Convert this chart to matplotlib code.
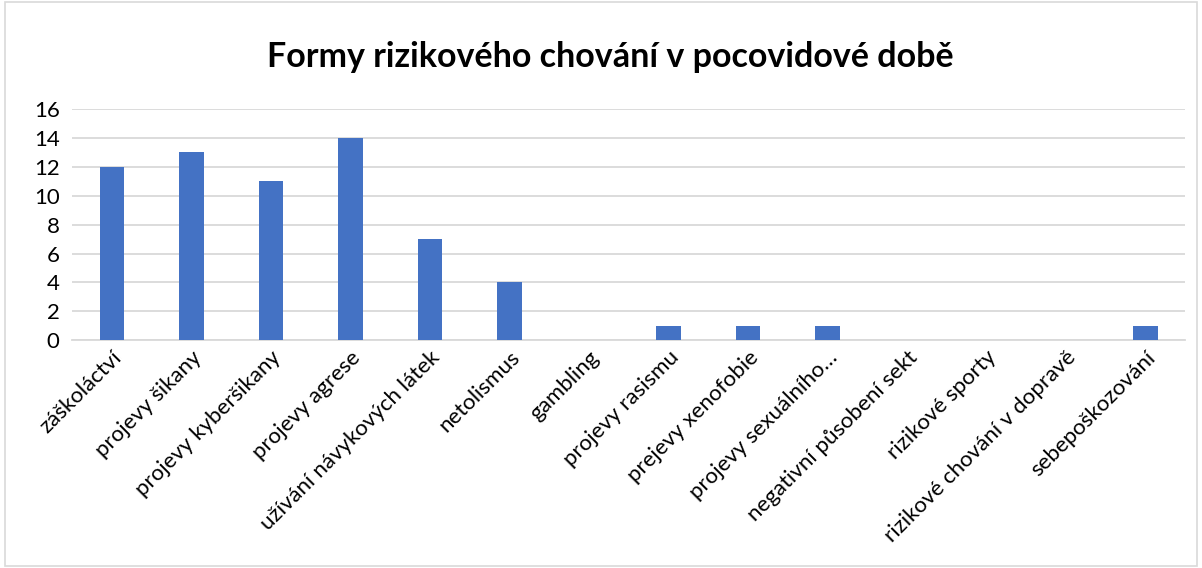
import matplotlib
matplotlib.use("Agg")
import matplotlib.pyplot as plt
from matplotlib.patches import Rectangle

plt.rcParams['font.family'] = ['Lato', 'DejaVu Sans']

# === DATA ===
categories = [
    "záškoláctví", "projevy šikany", "projevy kyberšikany", "projevy agrese",
    "užívání návykových látek", "netolismus", "gambling", "projevy rasismu",
    "prejevy xenofobie", "projevy sexuálního…", "negativní působení sekt",
    "rizikové sporty", "rizikové chování v dopravě", "sebepoškozování",
]
values = [12, 13, 11, 14, 7, 4, 0, 1, 1, 1, 0, 0, 0, 1]
yticks = [0, 2, 4, 6, 8, 10, 12, 14, 16]

BAR = "#4472C4"
GRID = "#D9D9D9"

fig = plt.figure(figsize=(12.02, 5.68), dpi=100)
ax = fig.add_axes([0.060, 0.401, 0.926, 0.407])

x = list(range(len(categories)))
ax.bar(x, values, width=0.31, color=BAR, zorder=3)

ax.set_xlim(-0.5, len(categories) - 0.5)
ax.set_ylim(0, 16)
ax.set_yticks(yticks)
ax.set_yticklabels([str(v) for v in yticks], fontsize=16)
ax.yaxis.grid(True, color=GRID, lw=1.3, zorder=0)
ax.set_xticks(x)
ax.set_xticklabels(categories, rotation=45, ha="right", rotation_mode="anchor", fontsize=16)
ax.tick_params(axis="both", length=0, pad=5)
ax.tick_params(axis="y", pad=9)
for s in ["top", "right", "left"]:
    ax.spines[s].set_visible(False)
ax.spines["bottom"].set_color(GRID)
ax.spines["bottom"].set_linewidth(1.3)

fig.text(0.508, 0.9, "Formy rizikového chování v pocovidové době",
         ha="center", va="center", fontsize=24.5, fontweight="bold")

# light chart border
fig.patches.append(Rectangle((0.004, 0.004), 0.992, 0.992, transform=fig.transFigure,
                             fill=False, edgecolor="#D9D9D9", lw=1.2))

fig.savefig("out.png", dpi=100)
